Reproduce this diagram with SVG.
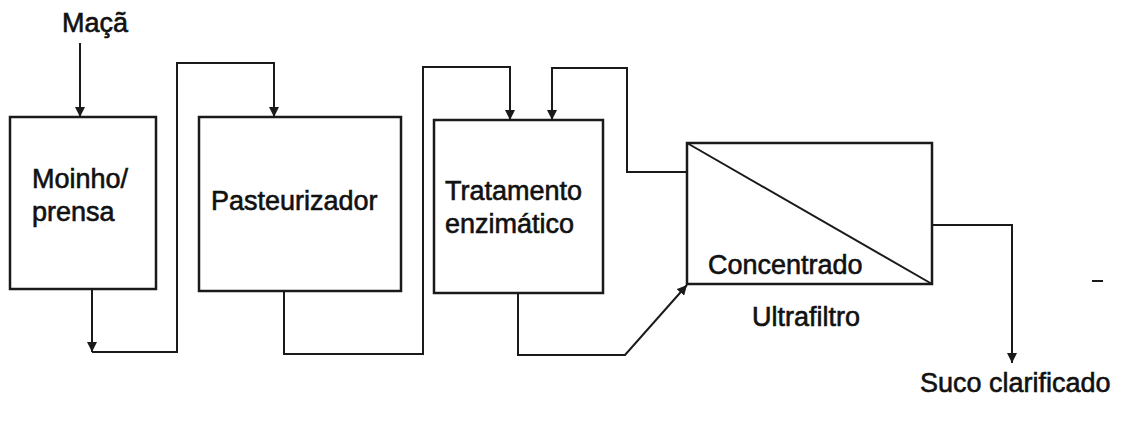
<svg xmlns="http://www.w3.org/2000/svg" width="1121" height="427" viewBox="0 0 1121 427">
  <style>
    .box { fill: #fff; stroke: #1a1a1a; stroke-width: 2.5; }
    .wire { fill: none; stroke: #1a1a1a; stroke-width: 2; }
    .lbl { font-family: "Liberation Sans", Arial, sans-serif; font-size: 27px; fill: #111; stroke: #111; stroke-width: 0.6; }
  </style>
  <defs>
    <marker id="tri" viewBox="0 0 10 10" refX="10" refY="5" markerWidth="10" markerHeight="10" markerUnits="userSpaceOnUse" orient="auto">
      <path d="M0,0 L10,5 L0,10 Z" fill="#1a1a1a"/>
    </marker>
  </defs>
  <rect width="1121" height="427" fill="#fff"/>

  <g id="connectors">
    <!-- apple feed -->
    <path class="wire" d="M80,43 V117" marker-end="url(#tri)"/>
    <!-- mill to pasteurizer -->
    <path class="wire" d="M92,289 V352" marker-end="url(#tri)"/>
    <path class="wire" d="M92,352 H177 V63 H274 V117" marker-end="url(#tri)"/>
    <!-- pasteurizer to enzymatic treatment -->
    <path class="wire" d="M284,291 V354 H423 V67 H510 V120" marker-end="url(#tri)"/>
    <!-- enzymatic treatment to ultrafilter -->
    <path class="wire" d="M518,293 V355 H625 L687,285" marker-end="url(#tri)"/>
    <!-- concentrate recycle -->
    <path class="wire" d="M687,172 H627 V68 H552 V120" marker-end="url(#tri)"/>
    <!-- clarified juice out -->
    <path class="wire" d="M932,225 H1012 V363" marker-end="url(#tri)"/>
  </g>

  <g id="maca">
    <text class="lbl" x="62" y="32">Maçã</text>
  </g>

  <g id="moinho">
    <rect class="box" x="10" y="117" width="146" height="172"/>
    <text class="lbl" x="32" y="188">Moinho/</text>
    <text class="lbl" x="32" y="221">prensa</text>
  </g>

  <g id="pasteurizador">
    <rect class="box" x="199" y="117" width="202" height="174"/>
    <text class="lbl" x="211" y="210">Pasteurizador</text>
  </g>

  <g id="tratamento">
    <rect class="box" x="434" y="120" width="169" height="173"/>
    <text class="lbl" x="445" y="200">Tratamento</text>
    <text class="lbl" x="445" y="233">enzimático</text>
  </g>

  <g id="ultrafiltro">
    <rect class="box" x="687" y="143" width="245" height="141"/>
    <line class="wire" x1="687" y1="143" x2="932" y2="284" stroke-width="2.5"/>
    <text class="lbl" x="708" y="274">Concentrado</text>
    <text class="lbl" x="752" y="326">Ultrafiltro</text>
  </g>

  <g id="suco">
    <text class="lbl" x="920" y="392">Suco clarificado</text>
  </g>

  <line x1="1092" y1="281" x2="1103" y2="281" stroke="#1a1a1a" stroke-width="2"/>
</svg>
